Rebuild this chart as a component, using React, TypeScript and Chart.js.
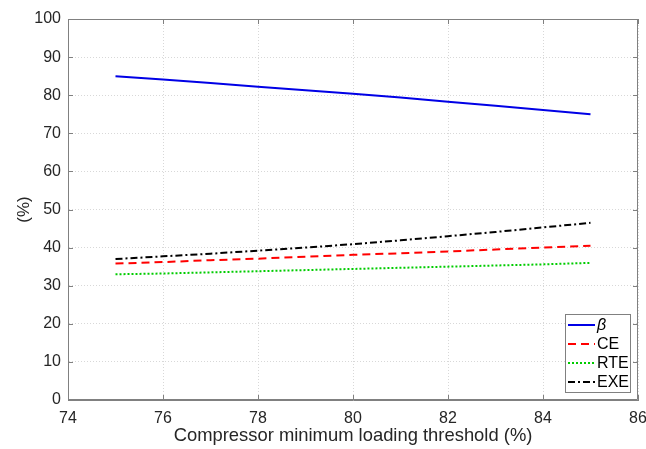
import React, { useEffect, useRef } from "react";
import { Chart, registerables } from "chart.js";

Chart.register(...registerables);

const thresholds = [75, 76, 77, 78, 79, 80, 81, 82, 83, 84, 85];
const betaValues = [85, 84.1, 83.2, 82.2, 81.3, 80.4, 79.4, 78.3, 77.2, 76.1, 75];
const ceValues = [35.8, 36.2, 36.7, 37.1, 37.6, 38.1, 38.5, 39.0, 39.5, 40.0, 40.5];
const rteValues = [33.0, 33.2, 33.5, 33.8, 34.1, 34.4, 34.7, 35.0, 35.3, 35.6, 36.0];
const exeValues = [37.0, 37.7, 38.4, 39.2, 40.0, 40.9, 41.9, 43.0, 44.1, 45.3, 46.5];
const seriesNames = ["β", "CE", "RTE", "EXE"];
const xTitle = "Compressor minimum loading threshold (%)";
const yTitle = "(%)";

const FONT = "'Liberation Sans', Arial, sans-serif";
const AXIS_COLOR = "#808080";
const TEXT_COLOR = "#262626";

const boxPlugin = {
  id: "matlabBox",
  afterDraw(chart: any) {
    const { ctx, chartArea } = chart;
    const { left, right, top, bottom } = chartArea;
    const xs = chart.scales.x;
    const ys = chart.scales.y;
    ctx.save();
    ctx.strokeStyle = AXIS_COLOR;
    ctx.lineWidth = 1;
    ctx.setLineDash([]);
    ctx.beginPath();
    ctx.rect(left + 0.5, top + 0.5, right - left - 1, bottom - top - 1);
    ctx.stroke();
    const tl = 5;
    ctx.beginPath();
    xs.ticks.forEach((t: any) => {
      const px = Math.round(xs.getPixelForValue(t.value)) + 0.5;
      ctx.moveTo(px, bottom);
      ctx.lineTo(px, bottom - tl);
      ctx.moveTo(px, top);
      ctx.lineTo(px, top + tl);
    });
    ys.ticks.forEach((t: any) => {
      const py = Math.round(ys.getPixelForValue(t.value)) + 0.5;
      ctx.moveTo(left, py);
      ctx.lineTo(left + tl, py);
      ctx.moveTo(right, py);
      ctx.lineTo(right - tl, py);
    });
    ctx.stroke();

    // legend
    const lx = 565, ly = 314, lw = 65, lh = 78;
    ctx.fillStyle = "#ffffff";
    ctx.fillRect(lx, ly, lw, lh);
    ctx.strokeStyle = AXIS_COLOR;
    ctx.strokeRect(lx + 0.5, ly + 0.5, lw, lh);
    const ds = chart.data.datasets;
    const rowY = [325, 344, 363, 382];
    ds.forEach((d: any, i: number) => {
      const y = rowY[i];
      ctx.strokeStyle = d.borderColor;
      ctx.lineWidth = d.borderWidth;
      ctx.setLineDash(d.borderDash || []);
      ctx.beginPath();
      ctx.moveTo(568, y);
      ctx.lineTo(595, y);
      ctx.stroke();
      ctx.setLineDash([]);
      ctx.fillStyle = "#000000";
      ctx.textBaseline = "middle";
      ctx.textAlign = "left";
      ctx.font = (i === 0 ? "italic " : "") + "16px " + FONT;
      ctx.fillText(d.label, 597, y + 1);
    });
    ctx.restore();
  },
};

export default function App() {
  const ref = useRef<HTMLCanvasElement | null>(null);
  useEffect(() => {
    document.body.style.margin = "0";
    const mk = (x: number[], y: number[]) => x.map((v, i) => ({ x: v, y: y[i] }));
    const chart = new Chart(ref.current as HTMLCanvasElement, {
      type: "line",
      data: {
        datasets: [
          { label: seriesNames[0], data: mk(thresholds, betaValues), borderColor: "#0000e6", borderWidth: 2, pointRadius: 0, borderDash: [] },
          { label: seriesNames[1], data: mk(thresholds, ceValues), borderColor: "#ff0000", borderWidth: 2, pointRadius: 0, borderDash: [8, 5] },
          { label: seriesNames[2], data: mk(thresholds, rteValues), borderColor: "#00cc00", borderWidth: 2, pointRadius: 0, borderDash: [2, 2] },
          { label: seriesNames[3], data: mk(thresholds, exeValues), borderColor: "#000000", borderWidth: 2, pointRadius: 0, borderDash: [7, 3, 2, 3] },
        ],
      },
      options: {
        responsive: false,
        animation: false,
        layout: { padding: { top: 19, right: 8, left: 0, bottom: 0 } },
        plugins: { legend: { display: false }, tooltip: { enabled: false } },
        scales: {
          x: {
            type: "linear",
            min: 74,
            max: 86,
            ticks: { stepSize: 2, color: TEXT_COLOR, font: { family: FONT, size: 16 }, padding: 9, maxRotation: 0 },
            grid: { color: "#d8d8d8", drawTicks: false, lineWidth: 1 },
            border: { display: true, color: AXIS_COLOR, dash: [1, 2] },
            title: { display: true, text: xTitle, color: TEXT_COLOR, font: { family: FONT, size: 18.4 }, padding: { top: 0, bottom: 2 } },
            afterFit(scale: any) {
              scale.height = 49;
              scale.paddingLeft = 0;
              scale.paddingRight = 0;
            },
          } as any,
          y: {
            type: "linear",
            min: 0,
            max: 100,
            ticks: { stepSize: 10, color: TEXT_COLOR, font: { family: FONT, size: 16 }, padding: 7 },
            grid: { color: "#d8d8d8", drawTicks: false, lineWidth: 1 },
            border: { display: true, color: AXIS_COLOR, dash: [1, 2] },
            title: { display: true, text: yTitle, color: TEXT_COLOR, font: { family: FONT, size: 17 }, padding: { top: 14, bottom: 0 } },
            afterFit(scale: any) {
              scale.width = 68;
              scale.paddingTop = 0;
              scale.paddingBottom = 0;
            },
          } as any,
        },
      },
      plugins: [boxPlugin],
    });
    return () => chart.destroy();
  }, []);
  return (
    <div style={{ width: 646, height: 449 }}>
      <canvas ref={ref} width={646} height={449} />
    </div>
  );
}
